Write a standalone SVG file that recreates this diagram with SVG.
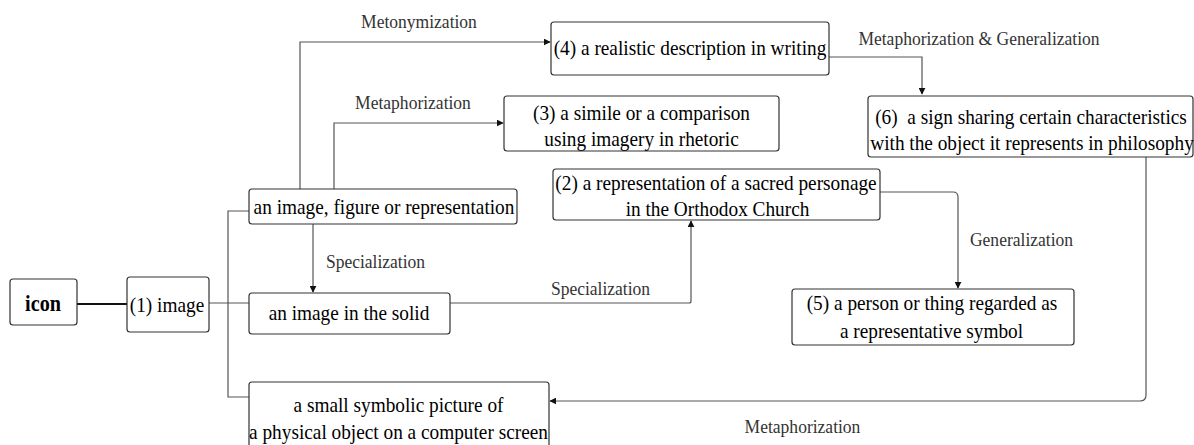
<svg xmlns="http://www.w3.org/2000/svg" width="1194" height="445" viewBox="0 0 1194 445">
<style>
.box{fill:#fff;stroke:#333;stroke-width:1.2}
.t{font-family:"Liberation Serif","Times New Roman",serif;font-size:21.8px;fill:#000;text-anchor:middle}
.lb{font-family:"Liberation Serif","Times New Roman",serif;font-size:19.8px;fill:#333;text-anchor:middle}
.b{font-family:"Liberation Serif","Times New Roman",serif;font-size:22.8px;font-weight:bold;fill:#000;text-anchor:middle}
.c{fill:none;stroke:#555;stroke-width:1.2}
.pre{white-space:pre}
</style>
<defs>
<marker id="ah" viewBox="0 0 10 10" refX="9" refY="5" markerWidth="7" markerHeight="7" markerUnits="userSpaceOnUse" orient="auto">
<path d="M0,0 L10,5 L0,10 Z" fill="#111"/>
</marker>
</defs>
<rect width="1194" height="445" fill="#fff"/>
<g id="connectors">
<line x1="77" y1="304" x2="127" y2="304" stroke="#111" stroke-width="2"/>
<path class="c" d="M209,303 H249"/>
<path class="c" d="M249,211 H228 V397 H249"/>
<path class="c" d="M300,189 V42 H550" marker-end="url(#ah)"/>
<path class="c" d="M334,189 V123 H503" marker-end="url(#ah)"/>
<path class="c" d="M313,224 V292" marker-end="url(#ah)"/>
<path class="c" d="M450,303 H689 Q691,303 691,301 V221" marker-end="url(#ah)"/>
<path class="c" d="M880,192 H953 Q958,192 958,197 V288" marker-end="url(#ah)"/>
<path class="c" d="M829,57 H922 V94" marker-end="url(#ah)"/>
<path class="c" d="M1146,157 V395 Q1146,401 1140,401 H550" marker-end="url(#ah)"/>
</g>
<g id="labels">
<text class="lb" transform="translate(419,28) scale(0.885,1)">Metonymization</text>
<text class="lb" transform="translate(413,109) scale(0.885,1)">Metaphorization</text>
<text class="lb" transform="translate(375.5,268) scale(0.885,1)">Specialization</text>
<text class="lb" transform="translate(600.5,295) scale(0.885,1)">Specialization</text>
<text class="lb" transform="translate(979,45) scale(0.885,1)">Metaphorization &amp; Generalization</text>
<text class="lb" transform="translate(1021.5,246) scale(0.885,1)">Generalization</text>
<text class="lb" transform="translate(802.5,433) scale(0.885,1)">Metaphorization</text>
</g>
<g id="icon">
<rect class="box" x="10" y="279" width="67" height="46" rx="3"/>
<text class="b" transform="translate(43,311) scale(0.885,1)">icon</text>
</g>
<g id="image1">
<rect class="box" x="127" y="277" width="82" height="55" rx="3"/>
<text class="t" transform="translate(167,312) scale(0.885,1)">(1) image</text>
</g>
<g id="figure">
<rect class="box" x="249" y="189" width="268" height="35" rx="3"/>
<text class="t" transform="translate(384,214) scale(0.885,1)">an image, figure or representation</text>
</g>
<g id="solid">
<rect class="box" x="249" y="293" width="201" height="41" rx="3"/>
<text class="t" transform="translate(349,320) scale(0.885,1)">an image in the solid</text>
</g>
<g id="small-symbolic">
<rect class="box" x="249" y="382" width="300" height="70" rx="3"/>
<text class="t" transform="translate(398.5,411.5) scale(0.885,1)">a small symbolic picture of</text>
<text class="t" transform="translate(398.5,438.5) scale(0.885,1)">a physical object on a computer screen</text>
</g>
<g id="n4">
<rect class="box" x="551" y="22" width="278" height="53" rx="3"/>
<text class="t" transform="translate(690,55) scale(0.885,1)">(4) a realistic description in writing</text>
</g>
<g id="n3">
<rect class="box" x="504" y="96" width="275" height="55" rx="3"/>
<text class="t" transform="translate(641.5,119.5) scale(0.885,1)">(3) a simile or a comparison</text>
<text class="t" transform="translate(641.5,145.5) scale(0.885,1)">using imagery in rhetoric</text>
</g>
<g id="n2">
<rect class="box" x="553" y="169" width="327" height="51" rx="3"/>
<text class="t" transform="translate(716,190) scale(0.885,1)">(2) a representation of a sacred personage</text>
<text class="t" transform="translate(717.5,215.5) scale(0.885,1)">in the Orthodox Church</text>
</g>
<g id="n6">
<rect class="box" x="868" y="96" width="325" height="61" rx="3"/>
<text class="t pre" transform="translate(1031,123.5) scale(0.885,1)">(6)  a sign sharing certain characteristics</text>
<text class="t" transform="translate(1032,149.5) scale(0.885,1)">with the object it represents in philosophy</text>
</g>
<g id="n5">
<rect class="box" x="792" y="289" width="282" height="56" rx="3"/>
<text class="t" transform="translate(932,309.5) scale(0.885,1)">(5) a person or thing regarded as</text>
<text class="t" transform="translate(931.5,337.5) scale(0.885,1)">a representative symbol</text>
</g>
</svg>
